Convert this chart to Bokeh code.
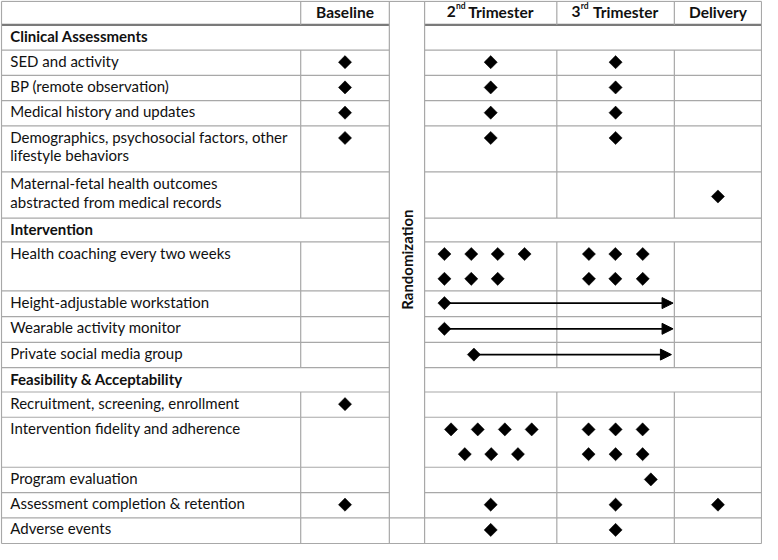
import math
from bokeh.plotting import figure
from bokeh.models import ColumnDataSource, Range1d, Arrow, NormalHead
from bokeh.core.properties import value
from bokeh.embed import file_html
from bokeh.resources import INLINE

# ---------------- data ----------------
timepoints = ["Baseline", "2nd Trimester", "3rd Trimester", "Delivery"]
sections = ["Clinical Assessments", "Intervention", "Feasibility & Acceptability"]
activities = [
    "SED and activity",
    "BP (remote observation)",
    "Medical history and updates",
    "Demographics, psychosocial factors, other\nlifestyle behaviors",
    "Maternal-fetal health outcomes\nabstracted from medical records",
    "Health coaching every two weeks",
    "Height-adjustable workstation",
    "Wearable activity monitor",
    "Private social media group",
    "Recruitment, screening, enrollment",
    "Intervention fidelity and adherence",
    "Program evaluation",
    "Assessment completion & retention",
    "Adverse events",
]
activity_section = [0, 0, 0, 0, 0, 1, 1, 1, 1, 2, 2, 2, 2, 2]
divider_label = "Randomization"

# scheduled marks: activity index, timepoint index, place in cell (0-1), sub-line
mark_activity = [0, 0, 0, 1, 1, 1, 2, 2, 2, 3, 3, 3, 4,
                 5, 5, 5, 5, 5, 5, 5, 5, 5, 5, 5, 5, 5,
                 9,
                 10, 10, 10, 10, 10, 10, 10, 10, 10, 10, 10, 10, 10,
                 11, 12, 12, 12, 12, 13, 13]
mark_timepoint = [0, 1, 2, 0, 1, 2, 0, 1, 2, 0, 1, 2, 3,
                  1, 1, 1, 1, 1, 1, 1, 2, 2, 2, 2, 2, 2,
                  0,
                  1, 1, 1, 1, 1, 1, 1, 2, 2, 2, 2, 2, 2,
                  2, 0, 1, 2, 3, 1, 2]
mark_place = [0.5, 0.5, 0.5, 0.5, 0.5, 0.5, 0.5, 0.5, 0.5, 0.5, 0.5, 0.5, 0.5,
              0.15, 0.353, 0.553, 0.756, 0.15, 0.353, 0.553, 0.273, 0.498, 0.731, 0.273, 0.498, 0.731,
              0.5,
              0.2, 0.402, 0.607, 0.81, 0.304, 0.504, 0.706, 0.27, 0.5, 0.73, 0.27, 0.5, 0.73,
              0.8, 0.5, 0.5, 0.5, 0.5, 0.5, 0.5]
mark_subline = [0, 0, 0, 0, 0, 0, 0, 0, 0, 0, 0, 0, 0.5,
                0, 0, 0, 0, 1, 1, 1, 0, 0, 0, 1, 1, 1,
                0,
                0, 0, 0, 0, 1, 1, 1, 0, 0, 0, 1, 1, 1,
                0, 0, 0, 0, 0, 0, 0]

# continuous periods (start marker + arrow)
period_activity = [6, 7, 8]
period_start_tp = [1, 1, 1]
period_start_place = [0.15, 0.15, 0.373]
period_end_tp = [2, 2, 2]
period_end_place = [0.989, 0.989, 0.975]

# ---------------- layout ----------------
W, H = 778, 560
ROW_EDGES = [1, 25, 51, 77, 103, 129, 176.5, 224, 248.5, 299, 325.5, 352, 378,
             403, 429, 480.5, 506.5, 532.5, 559]
LABEL_DIV = 306.5
RAND_L, RAND_R = 397, 433
TP_LEFT = [306.5, 433, 568, 688]
TP_RIGHT = [397, 568, 688, 777]
X_LEFT, X_RIGHT = 1, 777
BASE_OFF = 11.0     # text baseline below row top
LINE_GAP = 19.5

rows = [("header", None)]
for s in range(len(sections)):
    rows.append(("section", s))
    for a, sec in enumerate(activity_section):
        if sec == s:
            rows.append(("activity", a))
row_top = {}
for i, r in enumerate(rows):
    row_top[r] = ROW_EDGES[i]

FONT = value("Lato")
GRID = "#a8a8a8"
TXT = "#111111"
FS = "15px"

p = figure(width=762, height=544, x_range=Range1d(0, W), y_range=Range1d(H, 0),
           output_backend="svg", toolbar_location=None, min_border=0)
p.axis.visible = False
p.grid.visible = False
p.outline_line_color = None
p.background_fill_color = "white"

# horizontal rules
hx0, hx1, hy = [], [], []
n_edges = len(ROW_EDGES)
for i, y in enumerate(ROW_EDGES):
    if i == 1:
        continue
    if i == 0 or i == n_edges - 1 or i == n_edges - 2:
        hx0.append(X_LEFT); hx1.append(X_RIGHT); hy.append(y)
    else:
        hx0 += [X_LEFT, RAND_R]; hx1 += [RAND_L, X_RIGHT]; hy += [y, y]
p.segment(x0=hx0, x1=hx1, y0=hy, y1=hy, line_color=GRID, line_width=1.2)
# header rule
y_h = ROW_EDGES[1]
p.segment(x0=[X_LEFT, RAND_R], x1=[RAND_L, X_RIGHT], y0=[y_h, y_h], y1=[y_h, y_h],
          line_color="#7a7a7a", line_width=2.2)

# vertical rules
vx, vy0, vy1 = [], [], []
for x in [X_LEFT, RAND_L, RAND_R, X_RIGHT]:
    vx.append(x); vy0.append(ROW_EDGES[0]); vy1.append(ROW_EDGES[-1])
for i, r in enumerate(rows):
    if r[0] != "section":
        for x in [LABEL_DIV, TP_LEFT[2], TP_LEFT[3]]:
            vx.append(x); vy0.append(ROW_EDGES[i]); vy1.append(ROW_EDGES[i + 1])
p.segment(x0=vx, x1=vx, y0=vy0, y1=vy1, line_color=GRID, line_width=1.2)

# activity labels
lx, ly, lt = [], [], []
for a, label in enumerate(activities):
    top = row_top[("activity", a)]
    for k, line in enumerate(label.split("\n")):
        lx.append(10); ly.append(top + BASE_OFF + LINE_GAP * k); lt.append(line)
p.text(x=lx, y=ly, text=lt, text_font=FONT, text_font_size=FS,
       text_color=TXT, text_baseline="alphabetic", text_align="left")

# section labels
sx = [10] * len(sections)
sy = [row_top[("section", s)] + BASE_OFF + 0.5 for s in range(len(sections))]
p.text(x=sx, y=sy, text=sections, text_font=FONT, text_font_size=FS,
       text_font_style="bold", text_color=TXT, text_baseline="alphabetic")

# header labels
hb = ROW_EDGES[0] + BASE_OFF - 0.5
HFS = "15.5px"
p.text(x=[(TP_LEFT[0] + TP_RIGHT[0]) / 2, (TP_LEFT[3] + TP_RIGHT[3]) / 2], y=[hb, hb],
       text=[timepoints[0], timepoints[3]], text_font=FONT, text_font_size=HFS,
       text_font_style="bold", text_color=TXT, text_align="center", text_baseline="alphabetic")
num = [timepoints[1].split(" ")[0][:1], timepoints[2].split(" ")[0][:1]]
sup = [timepoints[1].split(" ")[0][1:], timepoints[2].split(" ")[0][1:]]
rest = [timepoints[1].split(" ", 1)[1], timepoints[2].split(" ", 1)[1]]
ctr = [(TP_LEFT[1] + TP_RIGHT[1]) / 2, (TP_LEFT[2] + TP_RIGHT[2]) / 2]
p.text(x=[c - 45 for c in ctr], y=[hb, hb], text=num, text_font=FONT, text_font_size=HFS,
       text_font_style="bold", text_color=TXT, text_baseline="alphabetic")
p.text(x=[c - 35.5 for c in ctr], y=[hb - 5.5, hb - 5.5], text=sup, text_font=FONT,
       text_font_size="8.5px", text_font_style="bold", text_color=TXT,
       text_baseline="alphabetic")
p.text(x=[c - 23 for c in ctr], y=[hb, hb], text=rest, text_font=FONT, text_font_size=HFS,
       text_font_style="bold", text_color=TXT, text_baseline="alphabetic")

# randomization divider label (merged cell from top to the row before last)
p.text(x=[(RAND_L + RAND_R) / 2], y=[(ROW_EDGES[0] + ROW_EDGES[-2]) / 2],
       text=[divider_label], angle=math.pi / 2,
       text_font=FONT, text_font_size="15px", text_font_style="bold", text_color=TXT,
       text_align="center", text_baseline="middle")

# marks
def cell_x(tp, place):
    return TP_LEFT[tp] + place * (TP_RIGHT[tp] - TP_LEFT[tp])

def cell_y(a, sub):
    return row_top[("activity", a)] + 12.5 + 25.5 * sub

mx = [cell_x(t, f) for t, f in zip(mark_timepoint, mark_place)]
my = [cell_y(a, s) for a, s in zip(mark_activity, mark_subline)]

# arrows
ax0 = [cell_x(t, f) for t, f in zip(period_start_tp, period_start_place)]
ax1 = [cell_x(t, f) for t, f in zip(period_end_tp, period_end_place)]
ay = [cell_y(a, 0) for a in period_activity]
arrow_src = ColumnDataSource(dict(x0=ax0, x1=ax1, y0=ay, y1=ay))
p.add_layout(Arrow(x_start="x0", y_start="y0", x_end="x1", y_end="y1", source=arrow_src,
                   line_color="black", line_width=1.6,
                   end=NormalHead(size=11, fill_color="black", line_color="black", line_width=1)))

p.scatter(x=mx + ax0, y=my + ay, marker="square", angle=math.pi / 4, size=9.3,
          fill_color="black", line_color="black", line_width=0.5)

open("out.html", "w").write(file_html(p, INLINE))
